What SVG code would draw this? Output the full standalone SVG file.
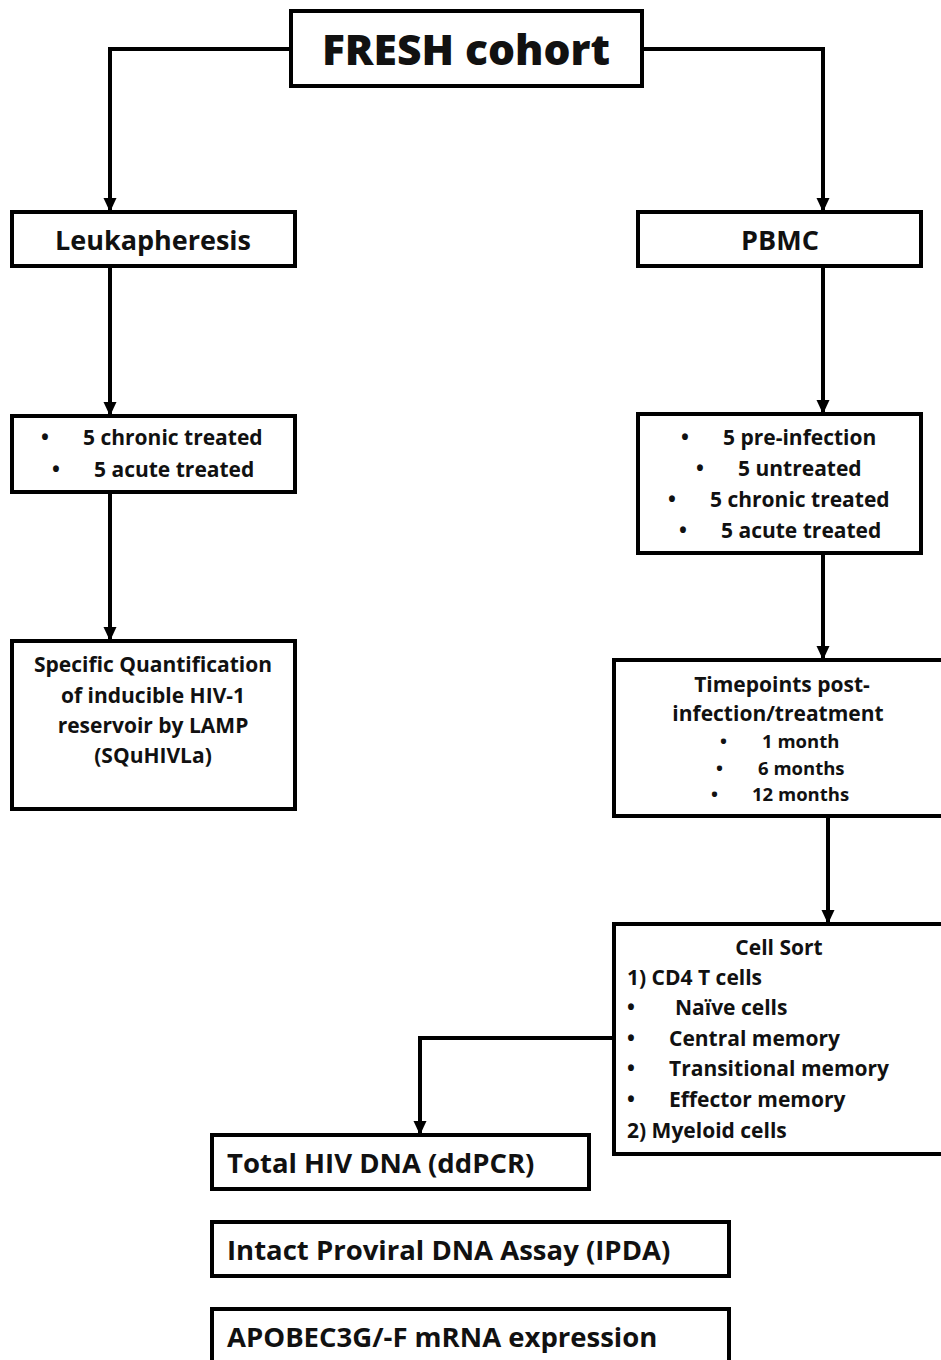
<svg xmlns="http://www.w3.org/2000/svg" width="941" height="1360" viewBox="0 0 941 1360">
<defs>
<marker id="ah" markerWidth="14" markerHeight="14" refX="13" refY="7" orient="auto" markerUnits="userSpaceOnUse" viewBox="0 0 14 14">
<path d="M0,0.5 L14,7 L0,13.5 Z" fill="#000"/>
</marker>
<style>
.box{fill:#fff;stroke:#000;stroke-width:4}
.con{fill:none;stroke:#000;stroke-width:4}
text{font-family:"Open Sans",Lato,"Liberation Sans",sans-serif;font-weight:bold;fill:#111}
.c{text-anchor:middle}
.t1{font-size:42.5px;font-weight:800}
.t2{font-size:27px}
.t3{font-size:21px}
.t4{font-size:18.5px}
.t5{font-size:27.5px}
</style>
</defs>
<rect width="941" height="1360" fill="#fff"/>
<g id="connectors">
<path class="con" d="M291,49 H110 V211" marker-end="url(#ah)"/>
<path class="con" d="M642,49 H823 V211" marker-end="url(#ah)"/>
<path class="con" d="M110,266 V415" marker-end="url(#ah)"/>
<path class="con" d="M110,492 V640" marker-end="url(#ah)"/>
<path class="con" d="M823,266 V413" marker-end="url(#ah)"/>
<path class="con" d="M823,553 V659" marker-end="url(#ah)"/>
<path class="con" d="M828,816 V923" marker-end="url(#ah)"/>
<path class="con" d="M614,1038 H420 V1134" marker-end="url(#ah)"/>
</g>
<g id="fresh">
<rect class="box" x="291" y="11" width="351" height="75"/>
<text class="c t1" x="466" y="65">FRESH cohort</text>
</g>
<g id="leuk">
<rect class="box" x="12" y="212" width="283" height="54"/>
<text class="c t2" x="153" y="250">Leukapheresis</text>
</g>
<g id="pbmc">
<rect class="box" x="638" y="212" width="283" height="54"/>
<text class="c t2" x="780" y="250">PBMC</text>
</g>
<g id="leftgroups">
<rect class="box" x="12" y="416" width="283" height="76"/>
<text class="t3" x="41" y="445">•</text>
<text class="t3" x="83" y="445">5 chronic treated</text>
<text class="t3" x="52" y="477">•</text>
<text class="t3" x="94" y="477">5 acute treated</text>
</g>
<g id="squhivla">
<rect class="box" x="12" y="641" width="283" height="168"/>
<text class="c t3" x="153" y="672">Specific Quantification</text>
<text class="c t3" x="153" y="703">of inducible HIV-1</text>
<text class="c t3" x="153" y="733">reservoir by LAMP</text>
<text class="c t3" x="153" y="763">(SQuHIVLa)</text>
</g>
<g id="rightgroups">
<rect class="box" x="638" y="414" width="283" height="139"/>
<text class="t3" x="681" y="445">•</text>
<text class="t3" x="723" y="445">5 pre-infection</text>
<text class="t3" x="696" y="476">•</text>
<text class="t3" x="738" y="476">5 untreated</text>
<text class="t3" x="668" y="507">•</text>
<text class="t3" x="710" y="507">5 chronic treated</text>
<text class="t3" x="679" y="538">•</text>
<text class="t3" x="721" y="538">5 acute treated</text>
</g>
<g id="timepoints">
<rect class="box" x="614" y="660" width="340" height="156"/>
<text class="c t3" x="782" y="692">Timepoints post-</text>
<text class="c t3" x="778" y="721">infection/treatment</text>
<text class="t4" x="720" y="748">•</text>
<text class="t4" x="762" y="748">1 month</text>
<text class="t4" x="716" y="775">•</text>
<text class="t4" x="758" y="775">6 months</text>
<text class="t4" x="711" y="801">•</text>
<text class="t4" x="752" y="801">12 months</text>
</g>
<g id="cellsort">
<rect class="box" x="614" y="924" width="340" height="230"/>
<text class="c t3" x="779" y="955">Cell Sort</text>
<text class="t3" x="627" y="985">1) CD4 T cells</text>
<text class="t3" x="627" y="1015">•</text>
<text class="t3" x="675" y="1015">Naïve cells</text>
<text class="t3" x="627" y="1046">•</text>
<text class="t3" x="669" y="1046">Central memory</text>
<text class="t3" x="627" y="1076">•</text>
<text class="t3" x="669" y="1076">Transitional memory</text>
<text class="t3" x="627" y="1107">•</text>
<text class="t3" x="669" y="1107">Effector memory</text>
<text class="t3" x="627" y="1138">2) Myeloid cells</text>
</g>
<g id="totalhiv">
<rect class="box" x="212" y="1135" width="377" height="54"/>
<text class="t5" x="227" y="1173">Total HIV DNA (ddPCR)</text>
</g>
<g id="ipda">
<rect class="box" x="212" y="1222" width="517" height="54"/>
<text class="t5" x="227" y="1260">Intact Proviral DNA Assay (IPDA)</text>
</g>
<g id="apobec">
<rect class="box" x="212" y="1309" width="517" height="60"/>
<text class="t5" x="227" y="1347">APOBEC3G/-F mRNA expression</text>
</g>
</svg>
